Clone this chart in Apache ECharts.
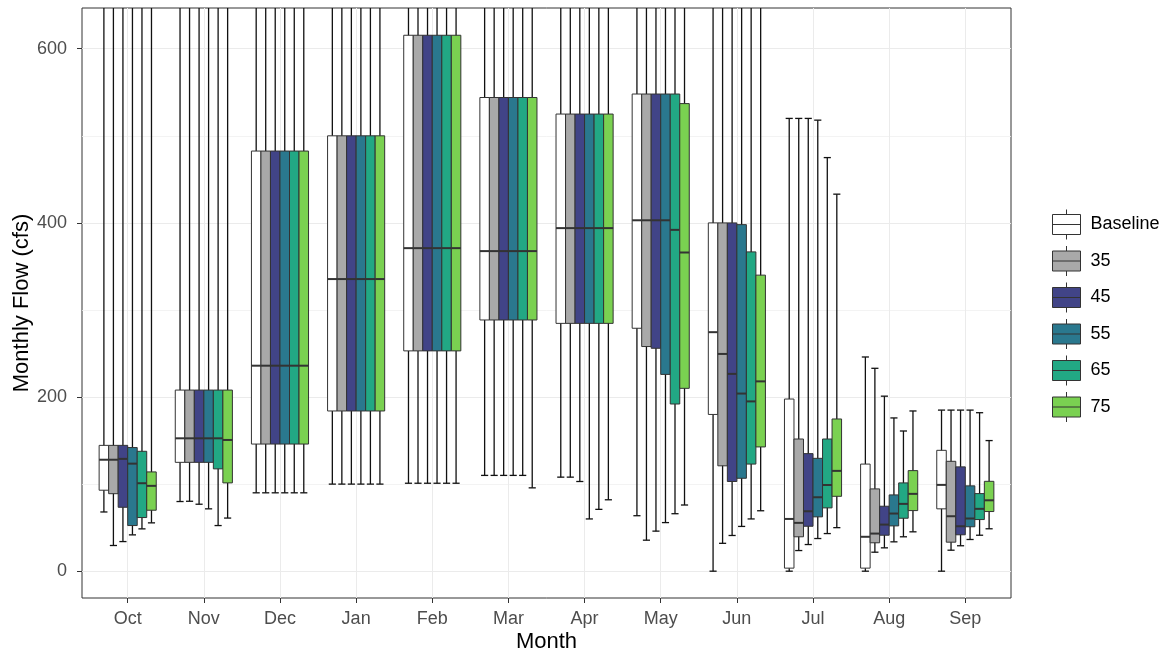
<!DOCTYPE html>
<html>
<head>
<meta charset="utf-8">
<script src="https://cdn.jsdelivr.net/npm/echarts@6/dist/echarts.min.js"></script>
<style>
  html, body { margin: 0; padding: 0; background: #ffffff; }
  #chart { width: 1175px; height: 658px; }
</style>
</head>
<body>
<div id="chart"></div>
<script>
// ---- data ----
const MONTHS = ['Oct', 'Nov', 'Dec', 'Jan', 'Feb', 'Mar', 'Apr', 'May', 'Jun', 'Jul', 'Aug', 'Sep'];
const SCENARIOS = ['Baseline', '35', '45', '55', '65', '75'];
const Y_TICKS = [0, 200, 400, 600];
const Y_MINOR = [100, 300, 500];
// each entry: [lower whisker, Q1, median, Q3, upper whisker] per month
const BASELINE = [
  [68, 93, 128, 144.5, 900], [80, 125, 152.6, 208, 900], [90, 146, 236, 482.5, 900],
  [100, 184, 335.5, 500, 900], [101, 253, 371, 615.5, 900], [110, 288.5, 367.6, 544, 900],
  [108, 284.6, 394, 525, 900], [63.7, 279, 403, 548, 900], [0, 180, 274.5, 400, 900],
  [0, 3.5, 60, 197.7, 520], [0, 3.5, 39.5, 123, 246], [0, 71.6, 99.1, 138.8, 185]
];
const S35 = [
  [29.5, 89, 128, 144.5, 900], [80.3, 125, 152.6, 208, 900], [90, 146, 236, 482.5, 900],
  [100, 184, 335.5, 500, 900], [101, 253, 371, 615.5, 900], [110, 288.5, 367.6, 544, 900],
  [108, 284.6, 394, 525, 900], [35.6, 258, 403, 548, 900], [32, 121, 249.5, 400, 900],
  [23.7, 39.5, 55.5, 151.8, 520], [21.8, 32.6, 43.2, 94.5, 233], [24.1, 33.3, 63.1, 126.2, 185]
];
const S45 = [
  [34, 73.4, 129, 144.5, 900], [76.9, 125, 152.6, 208, 900], [90, 146, 236, 482.5, 900],
  [100, 184, 335.5, 500, 900], [101, 253, 371, 615.5, 900], [110, 288.5, 367.6, 544, 900],
  [103, 284.6, 394, 525, 900], [46, 256, 403, 548, 900], [41, 103, 226.6, 400, 900],
  [30.6, 51.6, 68.8, 135, 520], [26.8, 41.3, 53.5, 74.6, 201], [29.2, 41.8, 51.6, 119.8, 185]
];
const S55 = [
  [41.7, 52.4, 123.5, 142, 900], [71.6, 125, 152.6, 208, 900], [90, 146, 236, 482.5, 900],
  [100, 184, 335.5, 500, 900], [101, 253, 371, 615.5, 900], [110, 288.5, 367.6, 544, 900],
  [60, 284.6, 394, 525, 900], [55.8, 226, 403, 548, 900], [51.4, 106.7, 204, 398, 900],
  [37.5, 62.4, 84.9, 129.6, 518], [33.7, 52, 66.2, 87.6, 176], [36.4, 51, 60.5, 98, 185]
];
const S65 = [
  [48.6, 61.6, 101, 137.7, 900], [52.4, 117.5, 152.6, 208, 900], [90, 146, 236, 482.5, 900],
  [100, 184, 335.5, 500, 900], [101, 253, 371, 615.5, 900], [110, 288.5, 367.6, 544, 900],
  [71, 284.6, 394, 525, 900], [66, 192, 392, 548, 900], [60, 123, 195, 366.7, 900],
  [43.2, 72.7, 99, 151.8, 475], [39.5, 60.8, 77.3, 101.4, 161], [41.3, 59.3, 71.6, 89.1, 182]
];
const S75 = [
  [55.5, 70, 98, 114, 900], [61, 101.4, 150.7, 208, 900], [90, 146, 236, 482.5, 900],
  [100, 184, 335.5, 500, 900], [101, 253, 371, 615.5, 900], [95.7, 288.5, 367.6, 544, 900],
  [82, 284.6, 394, 525, 900], [76, 210, 366, 537, 900], [69.4, 142.7, 218, 340, 900],
  [50, 86, 115.2, 174.8, 433], [45.2, 69.6, 88.8, 115.5, 184], [48.7, 68.5, 81.4, 103.2, 150]
];
const SERIES_DATA = [BASELINE, S35, S45, S55, S65, S75];
const COLORS = ['#FFFFFF', '#A9A9A9', '#414487', '#2A788E', '#22A884', '#7AD151'];

// ---- style constants ----
const DODGE = 0.75;      // total dodge width in category units
const CAP_FRAC = 0.75;   // whisker cap width relative to box width
const Y_MIN = -30.8, Y_MAX = 646.8;
const X_MIN = -0.6, X_MAX = MONTHS.length - 1 + 0.6;
const FONT = '"Liberation Sans", Arial, sans-serif';

const NG = SCENARIOS.length;

function renderBox(params, api) {
  const j = params.seriesIndex;
  const xi = api.value(0);
  const lo = api.value(1), q1 = api.value(2), med = api.value(3), q3 = api.value(4), hi = api.value(5);
  const cs = params.coordSys;
  const unit = api.size([1, 0])[0];
  const boxW = unit * DODGE / NG;
  const cx = api.coord([xi, 0])[0] + (j - (NG - 1) / 2) * boxW;
  const yOf = v => api.coord([xi, v])[1];
  const top = cs.y, bottom = cs.y + cs.height;
  const clampY = y => Math.max(top, Math.min(bottom, y));
  const yLo = yOf(lo), yQ1 = yOf(q1), yMed = yOf(med), yQ3 = yOf(q3), yHi = yOf(hi);
  const capW = boxW * CAP_FRAC;
  const children = [];
  children.push({
    type: 'line',
    shape: { x1: cx, y1: clampY(yLo), x2: cx, y2: clampY(yHi) },
    style: { stroke: '#111', lineWidth: 1.3 }
  });
  if (yLo >= top && yLo <= bottom) {
    children.push({ type: 'line', shape: { x1: cx - capW / 2, y1: yLo, x2: cx + capW / 2, y2: yLo },
      style: { stroke: '#111', lineWidth: 1.3 } });
  }
  if (yHi >= top && yHi <= bottom) {
    children.push({ type: 'line', shape: { x1: cx - capW / 2, y1: yHi, x2: cx + capW / 2, y2: yHi },
      style: { stroke: '#111', lineWidth: 1.3 } });
  }
  const rTop = clampY(yQ3), rBot = clampY(yQ1);
  children.push({
    type: 'rect',
    shape: { x: cx - boxW / 2, y: rTop, width: boxW, height: rBot - rTop },
    style: { fill: COLORS[j], stroke: '#333333', lineWidth: 1 }
  });
  children.push({
    type: 'line',
    shape: { x1: cx - boxW / 2, y1: yMed, x2: cx + boxW / 2, y2: yMed },
    style: { stroke: '#333333', lineWidth: 2 }
  });
  return { type: 'group', children: children };
}

const series = SCENARIOS.map((name, j) => ({
  name: name,
  type: 'custom',
  renderItem: renderBox,
  silent: true,
  xAxisIndex: 0,
  yAxisIndex: 0,
  itemStyle: { color: COLORS[j], borderColor: '#333333', borderWidth: 1 },
  encode: { x: 0, y: [1, 2, 3, 4, 5] },
  data: SERIES_DATA[j].map((d, i) => [i].concat(d))
}));

const chart = echarts.init(document.getElementById('chart'), null, { renderer: 'canvas' });
chart.setOption({
  animation: false,
  backgroundColor: '#ffffff',
  textStyle: { fontFamily: FONT },
  grid: {
    left: 82, right: 164, top: 8, bottom: 60,
    containLabel: false,
    outerBoundsMode: 'none',
    show: true, borderColor: '#333333', borderWidth: 1, backgroundColor: 'transparent'
  },
  legend: {
    orient: 'vertical',
    left: 1047, top: 204,
    itemWidth: 28, itemHeight: 30, itemGap: 5.5,
    selectedMode: false,
    icon: 'path://M0,5 L28,5 L28,25 L0,25 Z M0,15 L28,15 M14,0 L14,5 M14,25 L14,30',
    itemStyle: { borderColor: '#333333', borderWidth: 1 },
    textStyle: { fontFamily: FONT, fontSize: 18, color: '#000', padding: [0, 0, 0, 5] },
    data: SCENARIOS
  },
  xAxis: {
    type: 'value',
    min: X_MIN, max: X_MAX,
    splitNumber: 12,
    name: 'Month',
    nameLocation: 'middle',
    nameGap: 33,
    nameMoveOverlap: false,
    nameTextStyle: { fontFamily: FONT, fontSize: 22, color: '#000' },
    axisLine: { show: false, onZero: false },
    axisTick: { show: true, length: 5, lineStyle: { color: '#333333', width: 1 },
      customValues: MONTHS.map((m, i) => i) },
    axisLabel: {
      fontFamily: FONT, fontSize: 18, color: '#4D4D4D', margin: 12,
      customValues: MONTHS.map((m, i) => i),
      formatter: v => { const k = Math.round(v); return (Math.abs(v - k) < 1e-6 && MONTHS[k]) ? MONTHS[k] : ''; }
    },
    splitLine: { show: true, lineStyle: { color: '#EBEBEB', width: 1 } }
  },
  yAxis: [{
    type: 'value',
    position: 'left',
    min: Y_MIN, max: Y_MAX,
    splitNumber: 6,
    name: 'Monthly Flow (cfs)',
    nameLocation: 'middle',
    nameGap: 49,
    nameMoveOverlap: false,
    nameTextStyle: { fontFamily: FONT, fontSize: 22, color: '#000' },
    axisLine: { show: false, onZero: false },
    axisTick: { show: true, length: 5, lineStyle: { color: '#333333', width: 1 }, customValues: Y_TICKS },
    axisLabel: {
      fontFamily: FONT, fontSize: 18, color: '#4D4D4D', margin: 15,
      customValues: Y_TICKS,
      formatter: v => String(Math.round(v))
    },
    splitLine: { show: true, lineStyle: { color: '#EBEBEB', width: 1.2 } }
  }, {
    type: 'value',
    position: 'left',
    offset: 0,
    min: Y_MIN, max: Y_MAX,
    splitNumber: 6,
    axisLine: { show: false, onZero: false },
    axisTick: { show: false, customValues: Y_MINOR },
    axisLabel: { show: false, customValues: Y_MINOR },
    splitLine: { show: true, lineStyle: { color: '#F0F0F0', width: 0.8 } }
  }],
  series: series
});
</script>
</body>
</html>
